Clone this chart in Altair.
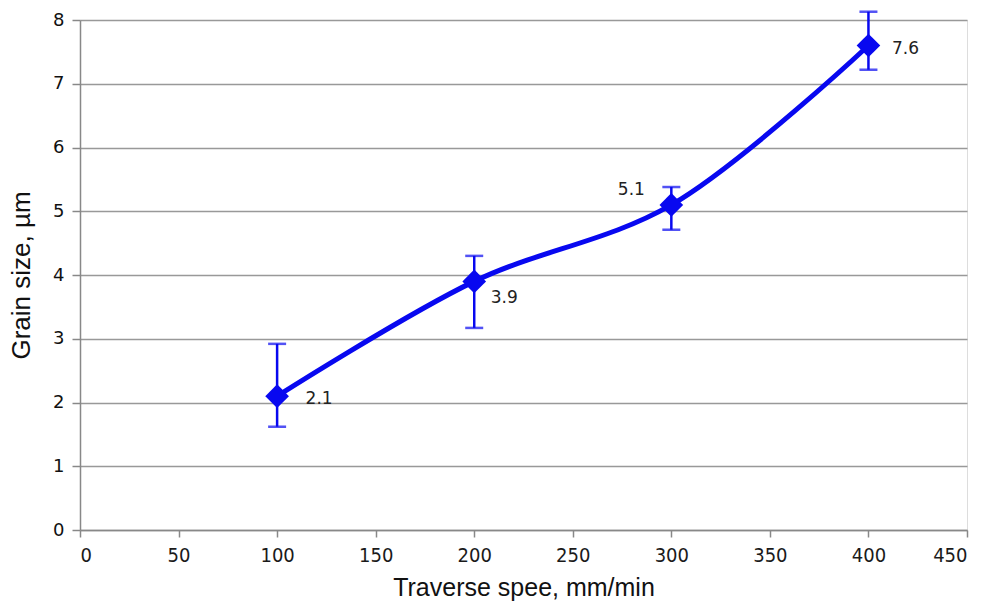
import altair as alt
import pandas as pd

speed = [100, 200, 300, 400]
grain = [2.1, 3.9, 5.1, 7.6]
err_hi = [2.92, 4.3, 5.38, 8.13]
err_lo = [1.62, 3.17, 4.71, 7.22]
labels = ["2.1", "3.9", "5.1", "7.6"]

df = pd.DataFrame({"speed": speed, "grain": grain, "hi": err_hi, "lo": err_lo, "label": labels})

BLUE = "#0808f0"
xs = alt.Scale(domain=[0, 450], nice=False)
ys = alt.Scale(domain=[0, 8], nice=False)

x = alt.X("speed:Q", scale=xs, title="Traverse spee, mm/min",
          axis=alt.Axis(values=list(range(0, 451, 50)), format="d", grid=False,
                        domainColor="#888888", domainWidth=1.5,
                        tickColor="#888888", tickSize=7, tickWidth=1.5,
                        labelFont="DejaVu Sans Condensed, DejaVu Sans",
                        labelFontSize=20, labelColor="#1a1a1a", labelPadding=8,
                        titleFont="Liberation Sans", titleFontSize=25, titleFontWeight="normal",
                        titleColor="#111111", titlePadding=10))
y = alt.Y("grain:Q", scale=ys, title="Grain size, µm",
          axis=alt.Axis(values=list(range(0, 9)), format="d", grid=True, gridColor="#999999",
                        gridWidth=1.3, domainColor="#888888", domainWidth=1.5,
                        tickColor="#888888", tickSize=8, tickWidth=1.5,
                        labelFont="DejaVu Sans", labelFontSize=18, labelColor="#111111",
                        labelPadding=8, titleFont="Liberation Sans", titleFontSize=26,
                        titleFontWeight="normal", titleColor="#111111", titlePadding=18))

base = alt.Chart(df)

line = base.mark_line(color=BLUE, strokeWidth=5, interpolate="catmull-rom").encode(x=x, y=y)

err = base.mark_rule(color=BLUE, strokeWidth=2.5).encode(x="speed:Q", y="lo:Q", y2="hi:Q")
cap_hi = base.mark_tick(color=BLUE, thickness=2.5, size=18, orient="horizontal").encode(x="speed:Q", y="hi:Q")
cap_lo = base.mark_tick(color=BLUE, thickness=2.5, size=18, orient="horizontal").encode(x="speed:Q", y="lo:Q")

pts = base.mark_point(shape="diamond", filled=True, color=BLUE, opacity=1, size=560).encode(x="speed:Q", y="grain:Q")

offsets = [(42, 3), (30, 17), (-40, -15), (37, 3)]
texts = []
for i, (dx, dy) in enumerate(offsets):
    texts.append(
        alt.Chart(df.iloc[[i]]).mark_text(font="DejaVu Sans", fontSize=17, color="#222222",
                                          dx=dx, dy=dy, align="center", baseline="middle")
        .encode(x="speed:Q", y="grain:Q", text="label:N")
    )

chart = alt.layer(line, err, cap_hi, cap_lo, pts, *texts).properties(
    width=887, height=510,
    autosize=alt.AutoSizeParams(type="none"),
    padding={"left": 80, "top": 20, "right": 23, "bottom": 77},
).configure_view(stroke=None).configure(background="white")

chart.save("out.html", embed_options={"renderer": "svg", "actions": False})
